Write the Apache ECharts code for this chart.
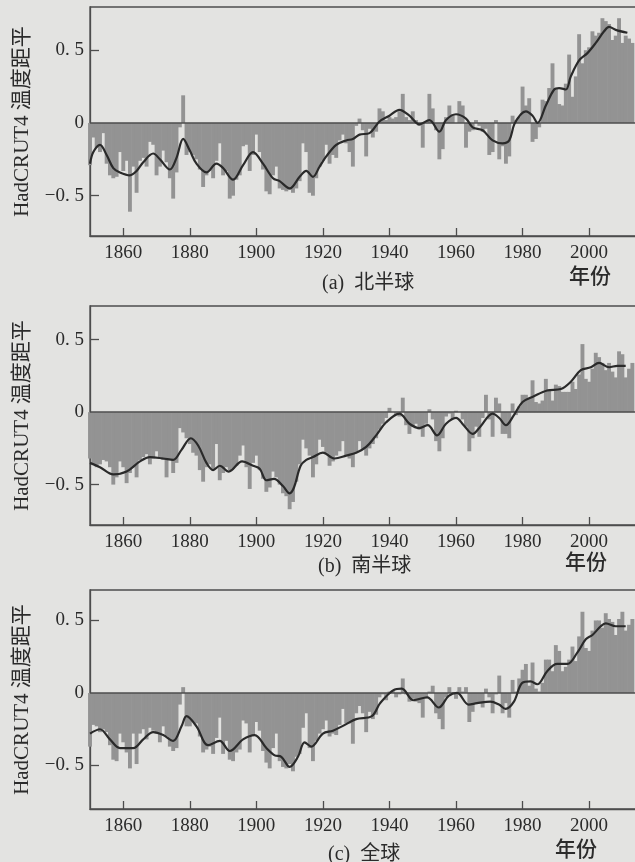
<!DOCTYPE html>
<html>
<head>
<meta charset="utf-8">
<script src="https://cdn.jsdelivr.net/npm/echarts@6/dist/echarts.min.js"></script>
<style>
  html, body { margin: 0; padding: 0; background: #e3e3e1; }
  #chart { width: 635px; height: 862px; }
</style>
</head>
<body>
<div id="chart"></div>
<script>
// HadCRUT4 annual anomalies, one value per year from 1850
const firstYear = 1850;

const nhValues = [
  -0.29, -0.10, -0.17, -0.20, -0.07, -0.28, -0.36, -0.38, -0.37, -0.20,
  -0.33, -0.26, -0.61, -0.30, -0.48, -0.26, -0.24, -0.30, -0.13, -0.15,
  -0.36, -0.30, -0.19, -0.27, -0.38, -0.52, -0.34, -0.03, 0.19, -0.22,
  -0.20, -0.22, -0.25, -0.32, -0.44, -0.36, -0.33, -0.38, -0.26, -0.14,
  -0.36, -0.33, -0.52, -0.50, -0.39, -0.36, -0.16, -0.15, -0.33, -0.22,
  -0.08, -0.20, -0.32, -0.47, -0.49, -0.36, -0.30, -0.45, -0.46, -0.47,
  -0.46, -0.48, -0.45, -0.40, -0.14, -0.20, -0.48, -0.50, -0.38, -0.30,
  -0.26, -0.15, -0.28, -0.22, -0.24, -0.12, -0.08, -0.14, -0.20, -0.30,
  -0.02, 0.03, -0.05, -0.23, -0.04, -0.10, -0.06, 0.10, 0.08, 0.02,
  0.04, 0.03, 0.04, 0.08, 0.20, 0.04, 0.02, 0.08, 0.02, -0.02,
  -0.17, 0.00, 0.20, 0.10, -0.05, -0.25, -0.18, 0.04, 0.12, 0.06,
  0.00, 0.15, 0.12, -0.17, -0.06, -0.05, 0.02, -0.02, -0.06, -0.04,
  -0.22, -0.20, 0.02, -0.25, -0.16, -0.28, -0.23, 0.05, 0.02, 0.04,
  0.25, 0.12, 0.17, -0.13, -0.11, -0.03, 0.16, 0.15, 0.24, 0.41,
  0.24, 0.13, 0.12, 0.27, 0.47, 0.18, 0.32, 0.61, 0.41, 0.50,
  0.52, 0.63, 0.60, 0.62, 0.72, 0.70, 0.68, 0.57, 0.60, 0.72,
  0.55, 0.60, 0.58, 0.55
];

const shValues = [
  -0.32, -0.36, -0.38, -0.36, -0.33, -0.34, -0.38, -0.50, -0.45, -0.34,
  -0.38, -0.49, -0.42, -0.38, -0.45, -0.33, -0.31, -0.29, -0.36, -0.32,
  -0.27, -0.31, -0.33, -0.45, -0.33, -0.42, -0.35, -0.11, -0.14, -0.18,
  -0.22, -0.28, -0.30, -0.40, -0.48, -0.38, -0.36, -0.40, -0.22, -0.47,
  -0.42, -0.38, -0.40, -0.39, -0.37, -0.30, -0.23, -0.38, -0.53, -0.35,
  -0.30, -0.40, -0.46, -0.55, -0.52, -0.41, -0.45, -0.50, -0.56, -0.58,
  -0.67, -0.62, -0.48, -0.36, -0.19, -0.25, -0.30, -0.45, -0.36, -0.19,
  -0.24, -0.28, -0.37, -0.34, -0.30, -0.27, -0.20, -0.30, -0.32, -0.38,
  -0.28, -0.20, -0.26, -0.30, -0.25, -0.22, -0.18, -0.12, -0.08, -0.04,
  0.03, 0.00, -0.02, -0.03, 0.10, -0.09, -0.15, -0.10, -0.08, -0.12,
  -0.17, -0.08, 0.02, -0.05, -0.20, -0.27, -0.18, -0.03, -0.01, -0.05,
  0.01, 0.00, -0.05, -0.10, -0.27, -0.18, -0.10, -0.17, -0.04, 0.12,
  -0.05, -0.17, 0.10, 0.06, -0.15, -0.15, -0.18, 0.06, -0.02, 0.04,
  0.12, 0.12, 0.10, 0.22, 0.07, 0.06, 0.08, 0.23, 0.16, 0.08,
  0.19, 0.18, 0.14, 0.14, 0.14, 0.21, 0.16, 0.26, 0.47, 0.23,
  0.21, 0.30, 0.41, 0.38, 0.34, 0.29, 0.34, 0.28, 0.24, 0.42,
  0.40, 0.24, 0.30, 0.34
];

const globalValues = [
  -0.37, -0.22, -0.23, -0.27, -0.25, -0.27, -0.36, -0.46, -0.47, -0.28,
  -0.34, -0.41, -0.52, -0.28, -0.49, -0.28, -0.25, -0.32, -0.24, -0.26,
  -0.28, -0.34, -0.23, -0.30, -0.37, -0.40, -0.38, -0.08, 0.04, -0.23,
  -0.23, -0.20, -0.21, -0.30, -0.41, -0.39, -0.37, -0.42, -0.31, -0.17,
  -0.42, -0.33, -0.46, -0.47, -0.41, -0.39, -0.19, -0.21, -0.41, -0.29,
  -0.20, -0.26, -0.40, -0.48, -0.52, -0.38, -0.28, -0.47, -0.51, -0.52,
  -0.49, -0.54, -0.44, -0.42, -0.24, -0.14, -0.38, -0.47, -0.33, -0.28,
  -0.25, -0.19, -0.30, -0.28, -0.29, -0.22, -0.11, -0.21, -0.21, -0.35,
  -0.14, -0.09, -0.14, -0.27, -0.13, -0.18, -0.15, -0.03, -0.01, -0.05,
  0.01, 0.02, -0.03, -0.01, 0.10, -0.01, -0.06, -0.04, -0.06, -0.07,
  -0.17, -0.03, 0.01, 0.05, -0.14, -0.18, -0.25, -0.03, 0.04, 0.00,
  -0.04, 0.04, 0.01, 0.04, -0.20, -0.13, -0.07, -0.07, -0.10, 0.03,
  -0.03, -0.14, -0.01, 0.12, -0.14, -0.07, -0.17, 0.09, 0.01, 0.10,
  0.16, 0.20, 0.05, 0.21, 0.03, 0.01, 0.07, 0.23, 0.23, 0.15,
  0.33, 0.29, 0.15, 0.18, 0.23, 0.32, 0.22, 0.39, 0.56, 0.31,
  0.29, 0.43, 0.50, 0.50, 0.45, 0.55, 0.51, 0.49, 0.40, 0.51,
  0.56, 0.43, 0.47, 0.51
];

// smoothed curves as [year, value]
const nhSmooth = [
  [1850, -0.28], [1851, -0.20], [1853, -0.15], [1855, -0.22], [1857, -0.31], [1859, -0.34],
  [1862, -0.36], [1864, -0.33], [1866, -0.27], [1869, -0.21], [1871, -0.25], [1874, -0.32],
  [1876, -0.24], [1878, -0.11], [1880, -0.19], [1882, -0.28], [1885, -0.34], [1888, -0.28],
  [1890, -0.31], [1893, -0.39], [1896, -0.29], [1899, -0.20], [1902, -0.28], [1905, -0.38],
  [1907, -0.40], [1910, -0.45], [1913, -0.37], [1915, -0.33], [1917, -0.37], [1919, -0.30],
  [1921, -0.23], [1924, -0.15], [1927, -0.12], [1929, -0.11], [1931, -0.08], [1934, -0.07],
  [1937, 0.01], [1940, 0.05], [1943, 0.09], [1946, 0.05], [1949, -0.01], [1952, 0.02],
  [1955, -0.06], [1957, 0.02], [1960, 0.06], [1963, 0.03], [1965, -0.03], [1968, -0.05],
  [1971, -0.12], [1974, -0.14], [1976, -0.12], [1977.5, -0.01], [1979.5, 0.06], [1981, 0.08],
  [1983, 0.05], [1984.5, 0.00], [1987, 0.12], [1989.5, 0.23], [1991, 0.24], [1993, 0.23],
  [1994.5, 0.32], [1997, 0.43], [1999.5, 0.48], [2002, 0.55], [2004.5, 0.63], [2006, 0.66],
  [2008, 0.64], [2011.5, 0.62]
];

const shSmooth = [
  [1850, -0.35], [1853, -0.38], [1857, -0.43], [1861, -0.41], [1865, -0.34], [1868, -0.31],
  [1872, -0.32], [1875, -0.33], [1877.5, -0.26], [1880.3, -0.18], [1882.5, -0.23], [1885, -0.35],
  [1887, -0.40], [1889, -0.37], [1891.7, -0.41], [1895.7, -0.34], [1899, -0.37], [1901, -0.39],
  [1903, -0.47], [1905.3, -0.46], [1908, -0.51], [1910, -0.56], [1911.3, -0.52], [1913.3, -0.37],
  [1915, -0.33], [1917, -0.31], [1920, -0.28], [1923.5, -0.32], [1927, -0.30], [1930, -0.28],
  [1933, -0.24], [1936, -0.16], [1939, -0.07], [1943, -0.01], [1946, -0.08], [1949, -0.11],
  [1951.5, -0.09], [1954.3, -0.16], [1957, -0.08], [1960, -0.04], [1962.3, -0.09], [1965, -0.15],
  [1967.3, -0.10], [1971, -0.01], [1973, -0.04], [1975, -0.09], [1977.4, -0.02], [1980, 0.07],
  [1983.4, 0.11], [1987.4, 0.15], [1991.5, 0.16], [1994.5, 0.21], [1997.5, 0.29], [2000.5, 0.31],
  [2003, 0.34], [2006, 0.31], [2008.5, 0.32], [2011, 0.32]
];

const globalSmooth = [
  [1850, -0.28], [1853, -0.25], [1856, -0.32], [1859, -0.38], [1863, -0.38], [1866, -0.32],
  [1869, -0.27], [1872, -0.29], [1875, -0.33], [1877.5, -0.23], [1879, -0.16], [1882, -0.23],
  [1885.5, -0.36], [1889, -0.33], [1892, -0.40], [1896, -0.32], [1899.5, -0.29], [1903, -0.38],
  [1905.5, -0.43], [1907.5, -0.44], [1910, -0.51], [1912.5, -0.44], [1914.5, -0.34], [1916.5, -0.37],
  [1920, -0.28], [1923, -0.26], [1926.6, -0.22], [1930, -0.18], [1934.7, -0.16], [1937.2, -0.07],
  [1941.2, 0.02], [1943.7, 0.03], [1947.2, -0.05], [1951.3, -0.03], [1954.8, -0.10], [1957.8, -0.02],
  [1960.3, 0.00], [1963.8, -0.08], [1966.3, -0.07], [1970.3, -0.06], [1972.9, -0.08], [1974.9, -0.11],
  [1977.4, -0.06], [1979.9, 0.07], [1982.4, 0.08], [1984.4, 0.06], [1987.4, 0.15], [1990.4, 0.20],
  [1993.5, 0.20], [1996.5, 0.28], [1999, 0.37], [2001, 0.40], [2003.5, 0.46], [2005, 0.48],
  [2008, 0.46], [2011, 0.46]
];

const xTickYears = [1860, 1880, 1900, 1920, 1940, 1960, 1980, 2000];
const yTickValues = [-0.5, 0, 0.5];
const panelLabels = ['(a)  北半球', '(b)  南半球', '(c)  全球'];

const serif = '"Liberation Serif", "DejaVu Serif", "Noto Sans CJK SC", serif';
const ink = '#2b2b2b';
const axisColor = '#4d4d4d';
const barColor = '#939393';

// layout of the three stacked panels
const panels = [
  { top: 7, height: 229, min: -0.777, max: 0.797, bars: nhValues, smooth: nhSmooth },
  { top: 306, height: 219, min: -0.779, max: 0.733, bars: shValues, smooth: shSmooth },
  { top: 590, height: 219, min: -0.80, max: 0.71, bars: globalValues, smooth: globalSmooth }
];

const toPairs = vals => vals.map((v, i) => [firstYear + i, v]);

const yLabel = v => (v === 0 ? '0' : v < 0 ? '\u22120. 5' : '0. 5');

const chart = echarts.init(document.getElementById('chart'));

const option = {
  backgroundColor: '#e3e3e1',
  animation: false,
  grid: panels.map(p => ({
    left: 90,
    top: p.top,
    width: 559,
    height: p.height,
    show: true,
    borderColor: axisColor,
    borderWidth: 1.3,
    backgroundColor: 'transparent',
    outerBoundsMode: 'none'
  })),
  xAxis: panels.map((p, i) => ({
    type: 'value',
    gridIndex: i,
    min: 1850,
    max: 2018,
    splitLine: { show: false },
    axisLine: { show: true, onZero: false, lineStyle: { color: axisColor, width: 1.3 } },
    axisTick: {
      show: true, inside: true, length: 8, customValues: xTickYears,
      lineStyle: { color: axisColor, width: 1.3 }
    },
    axisLabel: {
      customValues: xTickYears, margin: 8, color: ink,
      fontFamily: serif, fontSize: 19, formatter: v => String(v)
    }
  })),
  yAxis: panels.map((p, i) => ({
    type: 'value',
    gridIndex: i,
    min: p.min,
    max: p.max,
    splitLine: { show: false },
    axisLine: { show: true, lineStyle: { color: axisColor, width: 1.3 } },
    axisTick: {
      show: true, inside: true, length: 9, customValues: [-0.5, 0.5],
      lineStyle: { color: axisColor, width: 1.3 }
    },
    axisLabel: {
      customValues: yTickValues, margin: 6, color: ink,
      fontFamily: serif, fontSize: 19, formatter: yLabel
    },
    name: 'HadCRUT4 温度距平',
    nameLocation: 'middle',
    nameRotate: 90,
    nameGap: 57,
    nameTextStyle: { color: ink, fontFamily: serif, fontSize: 21 }
  })),
  series: panels.flatMap((p, i) => [
    {
      type: 'bar',
      xAxisIndex: i,
      yAxisIndex: i,
      barWidth: 3.9,
      itemStyle: { color: barColor },
      data: toPairs(p.bars),
      markLine: {
        silent: true,
        symbol: 'none',
        label: { show: false },
        lineStyle: { color: axisColor, width: 1.6, type: 'solid' },
        data: [{ yAxis: 0 }]
      }
    },
    {
      type: 'line',
      xAxisIndex: i,
      yAxisIndex: i,
      smooth: 0.35,
      showSymbol: false,
      lineStyle: { color: '#2a2a2a', width: 2.2 },
      data: p.smooth,
      z: 5
    }
  ]),
  graphic: [
    { type: 'text', left: 322, top: 274, style: { text: panelLabels[0], font: '20px ' + serif, fill: ink } },
    { type: 'text', left: 569, top: 267, style: { text: '年份', font: '500 21px ' + serif, fill: ink } },
    { type: 'text', left: 318, top: 557, style: { text: panelLabels[1], font: '20px ' + serif, fill: ink } },
    { type: 'text', left: 565, top: 553, style: { text: '年份', font: '500 21px ' + serif, fill: ink } },
    { type: 'text', left: 328, top: 845, style: { text: panelLabels[2], font: '20px ' + serif, fill: ink } },
    { type: 'text', left: 555, top: 840, style: { text: '年份', font: '500 21px ' + serif, fill: ink } }
  ]
};

chart.setOption(option);
</script>
</body>
</html>
